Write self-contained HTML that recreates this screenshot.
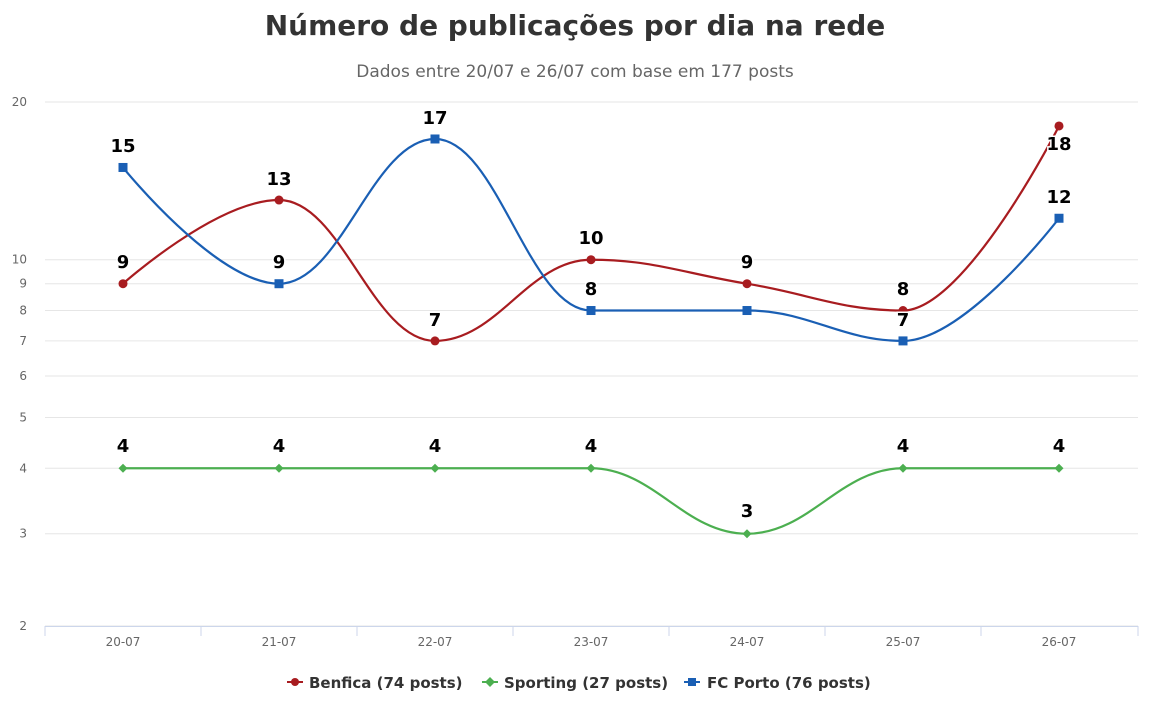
<!DOCTYPE html>
<html><head><meta charset="utf-8"><style>
body{margin:0;background:#fff;}
svg text{font-family:"DejaVu Sans","Liberation Sans",sans-serif;}
</style></head><body>
<svg id="c" width="1150" height="720" xmlns="http://www.w3.org/2000/svg">
<text x="575" y="35" text-anchor="middle" font-size="28" font-weight="bold" fill="#333">Número de publicações por dia na rede</text>
<text x="575" y="77" text-anchor="middle" font-size="17" fill="#666">Dados entre 20/07 e 26/07 com base em 177 posts</text>
<g id="grid"></g>
<g id="series"></g>
<g id="labels" font-size="18" font-weight="bold" fill="#000" text-anchor="middle"></g>
<g font-size="15" fill="#333">
<line x1="287" y1="682" x2="303" y2="682" stroke="#a81c20" stroke-width="2"/><circle cx="295" cy="682" r="4" fill="#a81c20"/>
<text x="309" y="688" font-weight="bold">Benfica (74 posts)</text>
<line x1="482" y1="682" x2="498" y2="682" stroke="#4caf50" stroke-width="2"/><path d="M490 677 L495 682 L490 687 L485 682Z" fill="#4caf50"/>
<text x="504" y="688" font-weight="bold">Sporting (27 posts)</text>
<line x1="684" y1="682" x2="700" y2="682" stroke="#1a5fb4" stroke-width="2"/><rect x="688" y="678" width="8" height="8" fill="#1a5fb4"/>
<text x="707" y="688" font-weight="bold">FC Porto (76 posts)</text>
</g>
</svg>
<script>
var NS="http://www.w3.org/2000/svg";
function Y(v){return 626-524*(Math.log10(v)-Math.log10(2));}
function X(i){return 123+156*i;}
function el(p,t,a,txt){var e=document.createElementNS(NS,t);for(var k in a)e.setAttribute(k,a[k]);if(txt!==undefined)e.textContent=txt;p.appendChild(e);return e;}
var g=document.getElementById('grid');
[20,10,9,8,7,6,5,4,3,2].forEach(function(v){var y=Y(v);
 el(g,'line',{x1:45,x2:1138,y1:y,y2:y,stroke:'#e6e6e6','stroke-width':1});
 el(g,'text',{x:27,y:y+4,'font-size':12,fill:'#666','text-anchor':'end'},v);});
el(g,'line',{x1:45,x2:1138,y1:626.5,y2:626.5,stroke:'#ccd6eb','stroke-width':1});
for(var i=0;i<=7;i++){var x=45+156*i;if(i==7)x=1138;el(g,'line',{x1:x,x2:x,y1:626,y2:636,stroke:'#ccd6eb'});}
['20-07','21-07','22-07','23-07','24-07','25-07','26-07'].forEach(function(t,i){el(g,'text',{x:X(i),y:646,'font-size':12,fill:'#666','text-anchor':'middle'},t);});
function spline(vals){
 var pts=vals.map(function(v,i){return [X(i),Y(v)];});
 var d='M'+pts[0][0]+' '+pts[0][1];
 var ctrl=[];
 for(var i=0;i<pts.length;i++){
  var x=pts[i][0],y=pts[i][1];
  if(i==0||i==pts.length-1){ctrl.push({l:[x,y],r:[x,y]});continue;}
  var p=pts[i-1],n=pts[i+1],s=1.5,dn=2.5;
  var lx=(s*x+p[0])/dn,ly=(s*y+p[1])/dn,rx=(s*x+n[0])/dn,ry=(s*y+n[1])/dn;
  var c=((ry-ly)*(rx-x))/(rx-lx)+y-ry;ly+=c;ry+=c;
  if(ly>p[1]&&ly>y){ly=Math.max(p[1],y);ry=2*y-ly;}else if(ly<p[1]&&ly<y){ly=Math.min(p[1],y);ry=2*y-ly;}
  if(ry>n[1]&&ry>y){ry=Math.max(n[1],y);ly=2*y-ry;}else if(ry<n[1]&&ry<y){ry=Math.min(n[1],y);ly=2*y-ry;}
  ctrl.push({l:[lx,ly],r:[rx,ry]});
 }
 for(var i=1;i<pts.length;i++){var a=ctrl[i-1].r,b=ctrl[i].l;d+=' C'+a[0]+' '+a[1]+' '+b[0]+' '+b[1]+' '+pts[i][0]+' '+pts[i][1];}
 return d;
}
var s=document.getElementById('series');
var S=[{v:[9,13,7,10,9,8,18],c:'#a81c20',m:'c'},{v:[4,4,4,4,3,4,4],c:'#4caf50',m:'d'},{v:[15,9,17,8,8,7,12],c:'#1a5fb4',m:'s'}];
S.forEach(function(o){
 el(s,'path',{d:spline(o.v),fill:'none',stroke:o.c,'stroke-width':2.2});
 o.v.forEach(function(v,i){var x=X(i),y=Y(v);
  if(o.m=='c')el(s,'circle',{cx:x,cy:y,r:4.5,fill:o.c});
  else if(o.m=='s')el(s,'rect',{x:x-4.5,y:y-4.5,width:9,height:9,fill:o.c});
  else el(s,'path',{d:'M'+x+' '+(y-4.5)+' L'+(x+4.5)+' '+y+' L'+x+' '+(y+4.5)+' L'+(x-4.5)+' '+y+'Z',fill:o.c});
 });
});
var L=document.getElementById('labels');
var lab=[[0,9,268],[1,13,185],[2,7,326],[3,10,244],[4,9,268],[5,8,295],[6,18,150],
[0,4,452],[1,4,452],[2,4,452],[3,4,452],[4,3,517],[5,4,452],[6,4,452],
[0,15,152],[1,9,268],[2,17,124],[3,8,295],[5,7,326],[6,12,203]];
lab.forEach(function(a){el(L,'text',{x:X(a[0]),y:a[2],stroke:'#fff','stroke-width':3,'paint-order':'stroke'},a[1]);});
</script>
</body></html>
